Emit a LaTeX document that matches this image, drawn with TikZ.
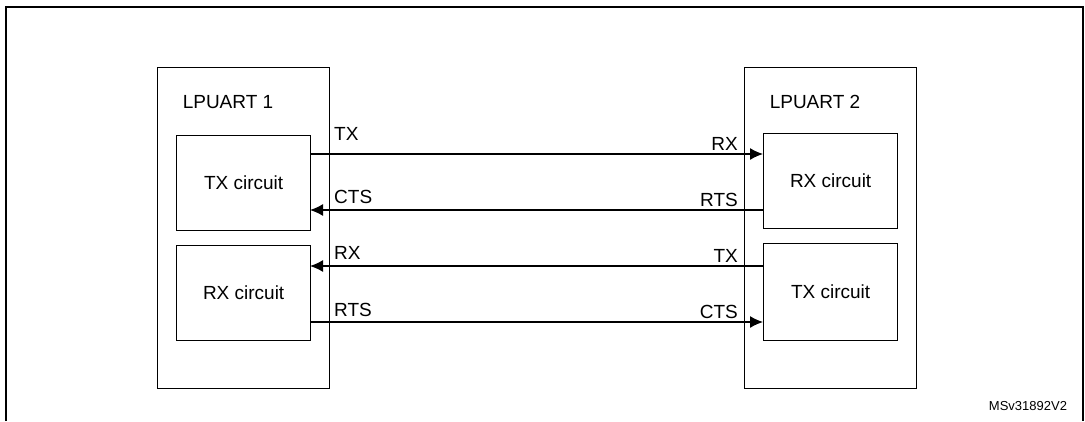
\documentclass[tikz,border=0pt]{standalone}
\usepackage{fontspec}
\setmainfont{Liberation Sans}
\begin{document}
\begin{tikzpicture}[x=1pt,y=-1pt,
  box/.style={draw,line width=1.3pt,inner sep=0pt,anchor=north west},
  lab/.style={font=\fontsize{19}{21}\selectfont,inner sep=0pt},
  sig/.style={line width=1.3pt,-{Latex[length=13pt,width=12pt]}}]
\usetikzlibrary{arrows.meta}
\useasboundingbox (0,0) rectangle (1085,421);
\draw[line width=2.2pt] (6,421) -- (6,7) -- (1083,7) -- (1083,421);
\node[box,minimum width=172,minimum height=321] (u1) at (157,67) {};
\node[box,minimum width=172,minimum height=321] (u2) at (744,67) {};
\node[lab] at (228,102) {LPUART 1};
\node[lab] at (815,102) {LPUART 2};
\node[box,minimum width=134,minimum height=95] (tx1) at (176,135) {};
\node[lab] at (tx1.center) {TX circuit};
\node[box,minimum width=134,minimum height=95] (rx1) at (176,245) {};
\node[lab] at (rx1.center) {RX circuit};
\node[box,minimum width=134,minimum height=95] (rx2) at (763,133) {};
\node[lab] at (rx2.center) {RX circuit};
\node[box,minimum width=134,minimum height=97] (tx2) at (763,243) {};
\node[lab] at (tx2.center) {TX circuit};
\coordinate (a1) at (310,154); \coordinate (a2) at (763,154);
\coordinate (b1) at (310,210); \coordinate (b2) at (763,210);
\coordinate (c1) at (310,266); \coordinate (c2) at (763,266);
\coordinate (d1) at (310,322); \coordinate (d2) at (763,322);
\draw[sig] (a1) -- (a2);
\draw[sig] (b2) -- (b1);
\draw[sig] (c2) -- (c1);
\draw[sig] (d1) -- (d2);
\node[lab,anchor=west] at (334,134) {TX};
\node[lab,anchor=west] at (334,197) {CTS};
\node[lab,anchor=west] at (334,253) {RX};
\node[lab,anchor=west] at (334,310) {RTS};
\node[lab,anchor=east] at (738,144) {RX};
\node[lab,anchor=east] at (738,200) {RTS};
\node[lab,anchor=east] at (738,256) {TX};
\node[lab,anchor=east] at (738,312) {CTS};
\node[font=\fontsize{13}{15}\selectfont,inner sep=0pt] at (1028,406) {MSv31892V2};
\end{tikzpicture}
\end{document}
